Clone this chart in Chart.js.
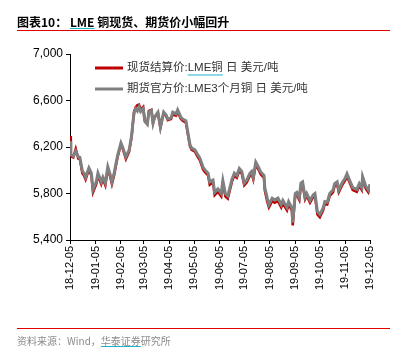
<!DOCTYPE html>
<html>
<head>
<meta charset="utf-8">
<script src="https://cdn.jsdelivr.net/npm/chart.js@4.4.1/dist/chart.umd.min.js"></script>
<style>
  html, body { margin: 0; padding: 0; background: #fff; }
  #wrap { position: relative; width: 415px; height: 354px; overflow: hidden; }
  #chart { position: absolute; left: 0; top: 0; }
  .title { position: absolute; left: 17px; top: 13px; font: bold 12px "Noto Sans CJK SC", sans-serif; color: #000; white-space: nowrap; }
  .rule { position: absolute; left: 17px; width: 373px; height: 1px; background: #e00000; }
  .source { position: absolute; left: 17px; top: 333px; font: 10px "Noto Sans CJK SC", sans-serif; color: #8c8c8c; white-space: nowrap; }
  .mark { text-decoration: underline; text-decoration-color: #1fb3c9; }
</style>
</head>
<body>
<div id="wrap">
  <canvas id="chart" width="415" height="354"></canvas>
  <div class="title">图表10： <span class="mark">LME</span> 铜现货、期货价小幅回升</div>
  <div class="rule" style="top:30px"></div>
  <div class="rule" style="top:328px"></div>
  <div class="source">资料来源：Wind，<span class="mark">华泰证券</span>研究所</div>
</div>
<script>
// 日期与数值
const dates = [
  '2018-12-05','2018-12-06','2018-12-09','2018-12-12','2018-12-15','2018-12-17','2018-12-20','2018-12-22','2018-12-24','2018-12-28',
  '2018-12-31','2019-01-02','2019-01-06','2019-01-08','2019-01-12','2019-01-14','2019-01-17','2019-01-20','2019-01-23','2019-01-25',
  '2019-01-28','2019-01-30','2019-02-01','2019-02-05','2019-02-07','2019-02-11','2019-02-15','2019-02-18','2019-02-20','2019-02-21',
  '2019-02-23','2019-02-25','2019-02-27','2019-03-01','2019-03-04','2019-03-06','2019-03-09','2019-03-11','2019-03-14','2019-03-16',
  '2019-03-18','2019-03-22','2019-03-25','2019-03-27','2019-03-29','2019-04-01','2019-04-03','2019-04-07','2019-04-09','2019-04-13',
  '2019-04-15','2019-04-19','2019-04-21','2019-04-25','2019-04-28','2019-04-30','2019-05-02','2019-05-06','2019-05-09','2019-05-12',
  '2019-05-16','2019-05-18','2019-05-22','2019-05-24','2019-05-28','2019-05-30','2019-06-03','2019-06-07','2019-06-09','2019-06-12',
  '2019-06-15','2019-06-20','2019-06-23','2019-06-26','2019-06-29','2019-07-02','2019-07-05','2019-07-08','2019-07-12','2019-07-14',
  '2019-07-16','2019-07-19','2019-07-22','2019-07-25','2019-07-29','2019-07-30','2019-08-02','2019-08-04','2019-08-08','2019-08-11',
  '2019-08-15','2019-08-19','2019-08-21','2019-08-26','2019-08-28','2019-09-01','2019-09-02','2019-09-05','2019-09-07','2019-09-10',
  '2019-09-12','2019-09-14','2019-09-17','2019-09-19','2019-09-23','2019-09-27','2019-09-29','2019-10-02','2019-10-05','2019-10-09',
  '2019-10-11','2019-10-14','2019-10-17','2019-10-21','2019-10-23','2019-10-26','2019-10-28','2019-11-01','2019-11-05','2019-11-07',
  '2019-11-11','2019-11-14','2019-11-19','2019-11-22','2019-11-25','2019-11-26','2019-11-30','2019-12-03','2019-12-05'
];

// 现货结算价:LME铜
const spot = [
  6295, 6120, 6110, 6185, 6100, 6095, 5975, 5955, 5920, 6005,
  5955, 5810, 5880, 5955, 5880, 5925, 5870, 6010, 5940, 5880,
  5965, 6045, 6115, 6225, 6190, 6095, 6160, 6290, 6440, 6505,
  6545, 6560, 6565, 6520, 6545, 6430, 6400, 6510, 6520, 6405,
  6455, 6490, 6365, 6430, 6490, 6465, 6430, 6440, 6480, 6470,
  6500, 6440, 6425, 6410, 6285, 6205, 6175, 6160, 6120, 6085,
  6005, 5985, 5955, 5875, 5895, 5785, 5815, 5775, 5890, 5775,
  5755, 5900, 5955, 5935, 5995, 5970, 5870, 5895, 5955, 5970,
  5920, 6050, 6010, 5965, 5935, 5825, 5730, 5680, 5735, 5720,
  5735, 5680, 5715, 5655, 5705, 5650, 5525, 5780, 5790, 5745,
  5870, 5880, 5750, 5780, 5720, 5770, 5780, 5620, 5595, 5655,
  5710, 5705, 5780, 5810, 5865, 5880, 5810, 5870, 5915, 5950,
  5880, 5830, 5815, 5865, 5830, 5925, 5840, 5810, 5860
];

// 期货官方价:LME3个月铜
const future = [
  6250, 6135, 6120, 6165, 6115, 6110, 5995, 5975, 5940, 6020,
  5975, 5835, 5900, 5975, 5900, 5940, 5890, 6030, 5960, 5900,
  5985, 6060, 6130, 6235, 6200, 6115, 6175, 6300, 6440, 6495,
  6530, 6510, 6545, 6505, 6530, 6420, 6395, 6500, 6515, 6405,
  6460, 6500, 6370, 6435, 6500, 6475, 6440, 6450, 6500, 6485,
  6520, 6455, 6440, 6425, 6300, 6220, 6190, 6175, 6140, 6105,
  6025, 6005, 5975, 5900, 5915, 5810, 5840, 5800, 5910, 5800,
  5780, 5920, 5975, 5955, 6015, 5990, 5890, 5915, 5975, 5990,
  5940, 6070, 6030, 5985, 5955, 5850, 5760, 5705, 5760, 5745,
  5760, 5705, 5740, 5680, 5730, 5675, 5550, 5800, 5810, 5765,
  5890, 5900, 5770, 5800, 5740, 5790, 5800, 5645, 5620, 5675,
  5730, 5725, 5800, 5830, 5885, 5900, 5830, 5890, 5935, 5970,
  5900, 5850, 5835, 5885, 5850, 5945, 5860, 5830, 5880
];

const tickLabels = ['18-12-05','19-01-05','19-02-05','19-03-05','19-04-05','19-05-05','19-06-05',
                    '19-07-05','19-08-05','19-09-05','19-10-05','19-11-05','19-12-05'];
const yTicks = [5400, 5800, 6200, 6600, 7000];

const seriesNames = ['现货结算价:LME铜 日 美元/吨', '期货官方价:LME3个月铜 日 美元/吨'];
const seriesColors = ['#c00000', '#808080'];

const DAY = 86400000;
const start = Date.parse('2018-12-05');
function dayOf(s) {
    return (Date.parse(s) - start) / DAY;
}
function dayOfLabel(l) {
    return dayOf('20' + l);
}
const tickDays = tickLabels.map(dayOfLabel);

const spotPts = dates.map((d, i) => ({ x: dayOf(d), y: spot[i] }));
const futPts = dates.map((d, i) => ({ x: dayOf(d), y: future[i] }));

const latin = '"Liberation Sans", Arial, "Noto Sans CJK SC", sans-serif';

// 图内图例
const innerLegend = {
    id: 'innerLegend',
    afterDraw(chart) {
        const { ctx, chartArea } = chart;
        const x0 = chartArea.left + 25;
        ctx.save();
        ctx.font = '11.5px ' + latin;
        ctx.textBaseline = 'middle';
        chart.data.datasets.forEach((ds, i) => {
            const y = chartArea.top + 14 + i * 21;
            ctx.strokeStyle = ds.borderColor;
            ctx.lineWidth = 3;
            ctx.beginPath();
            ctx.moveTo(x0, y);
            ctx.lineTo(x0 + 28, y);
            ctx.stroke();
            ctx.fillStyle = '#333';
            ctx.fillText(ds.label, x0 + 32, y);
            if (i === 0) {
                // LME铜 下的下划线
                const pre = ctx.measureText('现货结算价:').width;
                const w = ctx.measureText('LME铜').width;
                ctx.strokeStyle = '#1fb3c9';
                ctx.lineWidth = 1;
                ctx.beginPath();
                ctx.moveTo(x0 + 32 + pre, y + 7);
                ctx.lineTo(x0 + 32 + pre + w, y + 7);
                ctx.stroke();
            }
        });
        ctx.restore();
    }
};

new Chart(document.getElementById('chart'), {
    type: 'line',
    data: {
        datasets: [{
            label: seriesNames[0],
            data: spotPts,
            borderColor: seriesColors[0],
            borderWidth: 2.5,
            pointRadius: 0,
            tension: 0,
            order: 1
        }, {
            label: seriesNames[1],
            data: futPts,
            borderColor: seriesColors[1],
            borderWidth: 3,
            pointRadius: 0,
            tension: 0,
            order: 0
        }]
    },
    options: {
        responsive: false,
        animation: false,
        layout: { padding: { left: 0, top: 54, right: 45, bottom: 0 } },
        plugins: {
            legend: { display: false },
            tooltip: { enabled: false }
        },
        scales: {
            x: {
                type: 'linear',
                min: tickDays[0],
                max: tickDays[tickDays.length - 1],
                afterBuildTicks: (scale) => {
                    scale.ticks = tickDays.map(v => ({ value: v }));
                },
                afterFit: (scale) => { scale.height = 114; },
                ticks: {
                    autoSkip: false,
                    minRotation: 90,
                    maxRotation: 90,
                    padding: 2,
                    color: '#000',
                    font: { family: latin, size: 11 },
                    callback: (v) => tickLabels[tickDays.indexOf(v)]
                },
                grid: { drawOnChartArea: false, drawTicks: true, tickLength: 4, color: '#000' },
                border: { color: '#000', width: 1 }
            },
            y: {
                min: yTicks[0],
                max: yTicks[yTicks.length - 1],
                afterBuildTicks: (scale) => {
                    scale.ticks = yTicks.map(v => ({ value: v }));
                },
                afterFit: (scale) => { scale.width = 70; },
                ticks: {
                    padding: 3,
                    color: '#000',
                    font: { family: latin, size: 12 },
                    callback: (v) => v.toLocaleString('en-US')
                },
                grid: { drawOnChartArea: false, drawTicks: true, tickLength: 4, color: '#000' },
                border: { color: '#000', width: 1 }
            }
        }
    },
    plugins: [innerLegend]
});
</script>
</body>
</html>
